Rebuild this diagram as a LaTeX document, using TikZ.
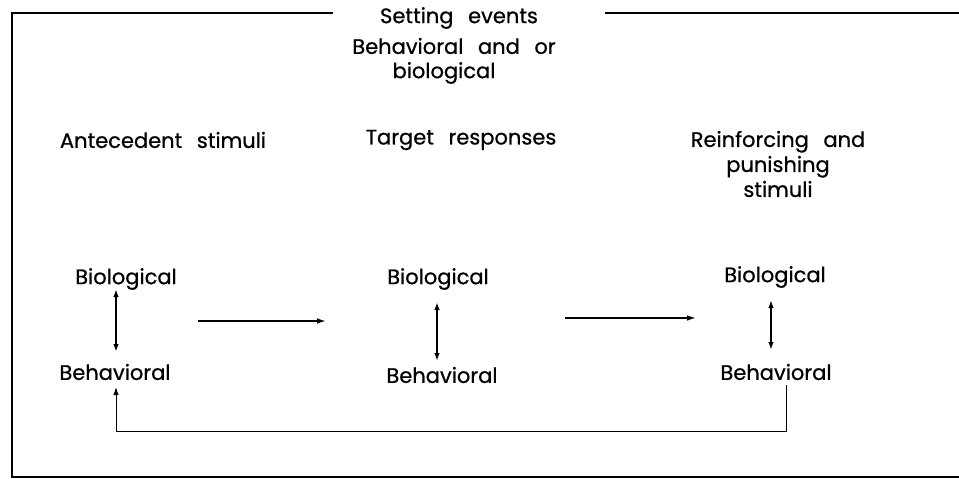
\documentclass[tikz,border=0pt]{standalone}
\usepackage{fontspec}
\setmainfont[FakeBold=0.7,WordSpace=2.6]{Poppins}
\usetikzlibrary{arrows.meta}
\begin{document}
\begin{tikzpicture}[x=1pt,y=-1pt,
  lbl/.style={font=\fontsize{21}{25}\selectfont, inner sep=0pt, align=center},
  frame/.style={line width=2pt},
  dbl/.style={line width=2pt, {Latex[length=8pt,width=5.5pt]}-{Latex[length=8pt,width=5.5pt]}},
  fwd/.style={line width=2pt, -{Latex[length=10pt,width=5.5pt]}},
  fb/.style={line width=1pt, -{Latex[length=8pt,width=5.5pt]}}]
\useasboundingbox (0,0) rectangle (959,479);
% frame
\draw[frame] (333,13) -- (12,13) -- (12,477) -- (959,477);
\draw[frame] (605,13) -- (959,13);
% setting events
\node[lbl] (set1) at (459,18) {Setting events};
\node[lbl] (set2) at (454,46) {Behavioral and or};
\node[lbl] (set3) at (444,73) {biological};
% headings
\node[lbl] (ant) at (163,140) {Antecedent stimuli};
\node[lbl] (tgt) at (461,140) {Target responses};
\node[lbl, align=center] (rein) at (778,164) {Reinforcing and\\punishing\\stimuli};
% lower
\node[lbl] (bio1) at (126,279) {Biological};
\node[lbl] (beh1) at (115,372) {Behavioral};
\node[lbl] (bio2) at (438,279) {Biological};
\node[lbl] (beh2) at (442,375) {Behavioral};
\node[lbl] (bio3) at (775,277) {Biological};
\node[lbl] (beh3) at (776,372) {Behavioral};
\coordinate (a1s) at (198,321);
\coordinate (a1e) at (327,321);
\coordinate (a2s) at (565,318);
\coordinate (a2e) at (697,318);
\draw[fwd] (a1s) -- (a1e);
\draw[fwd] (a2s) -- (a2e);
\draw[dbl] (116,289) -- (116,352);
\draw[dbl] (437,302) -- (437,361);
\draw[dbl] (771,300) -- (771,350);
\coordinate (c1) at (786,431);
\coordinate (c2) at (116,431);
\draw[fb] (786,385) -- (c1) -- (c2) -- (116,387);
\end{tikzpicture}
\end{document}
